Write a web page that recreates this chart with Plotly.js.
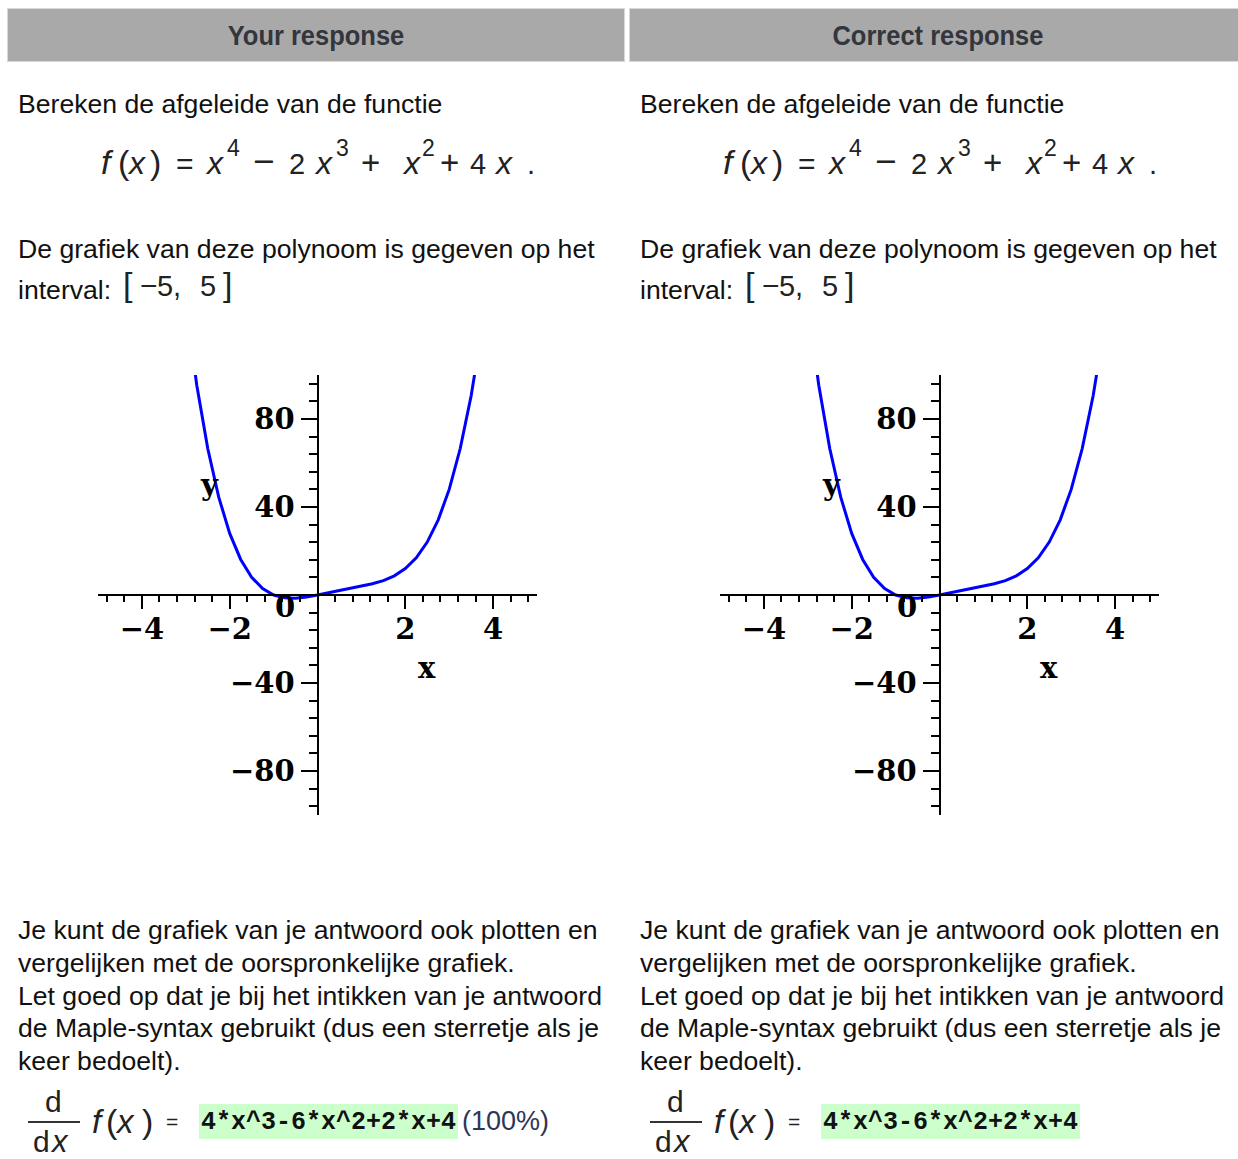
<!DOCTYPE html>
<html>
<head>
<meta charset="utf-8">
<script src="https://cdn.plot.ly/plotly-3.0.1.min.js"></script>
<style>
  html, body { margin: 0; padding: 0; background: #fff; }
  body { width: 1238px; height: 1159px; overflow: hidden; position: relative;
         font-family: "Liberation Sans", Arial, sans-serif; color: #111; }
  .col { position: absolute; top: 0; width: 623px; height: 1159px; }
  .hdr { position: absolute; left: 7px; top: 8px; width: 616px; height: 52px;
         background: #a9a9a9; border: 1px solid #d8d8d8; text-align: center; line-height: 54px; }
  .hdr span { display: inline-block; font-weight: bold; font-size: 28px; color: #33363d;
              transform: scaleX(0.91); transform-origin: center; }
  .ln { position: absolute; left: 18px; font-size: 26.6px; line-height: 26px; white-space: nowrap; }
  .g { position: absolute; white-space: nowrap; line-height: 1; color: #222; }
  .g.i { font-style: italic; }
  .plot { position: absolute; left: 60px; top: 340px; width: 520px; height: 500px; }
  .fbar { position: absolute; left: 28px; top: 1121px; width: 52px; height: 0; border-top: 2px solid #333; }
  .ans { position: absolute; left: 199px; top: 1104px; height: 35px; width: 259px; background: #ccffcc;
         font-family: "Liberation Mono", monospace; font-weight: bold; font-size: 25px; line-height: 37px;
         color: #111; padding-left: 2px; box-sizing: border-box; }
  .pct { position: absolute; left: 462px; top: 1108px; font-size: 27px; line-height: 26px; color: #2e3656; }
</style>
</head>
<body>
<div id="left" class="col" style="left:0px"></div>
<div id="right" class="col" style="left:622px"></div>
<script>
// The polynomial f(x) = x^4 - 2x^3 + x^2 + 4x, sampled on the plotted window
const sampleX = [-3, -2.75, -2.5, -2.25, -2, -1.75, -1.5, -1.25, -1, -0.75, -0.5, -0.25,
                 0, 0.25, 0.5, 0.75, 1, 1.25, 1.5, 1.75, 2, 2.25, 2.5, 2.75, 3, 3.25, 3.5, 3.75];
const sampleY = [132, 95.35, 66.56, 44.47, 28, 16.16, 8.06, 2.91, 0, -1.28, -1.44, -0.90,
                 0, 1.04, 2.06, 3.04, 4, 5.10, 6.56, 8.72, 12, 16.91, 24.06, 34.16, 48, 66.47, 90.56, 121.35];

// Axis ticks
const xTickVals = [-4, -2, 2, 4];
const xTickText = ["\u22124", "\u22122", "2", "4"];
const yTickVals = [-80, -40, 40, 80];
const yTickText = ["\u221280", "\u221240", "40", "80"];

const headers = ["Your response", "Correct response"];
const showScore = [true, false];
const scoreText = "(100%)";
const answerText = "4*x^3-6*x^2+2*x+4";

// Typeset a formula from glyph pieces: [text, left, fontSize, italic, baseline]
function formula(pieces) {
  return pieces.map(function (p) {
    const top = p[4] - 0.8465 * p[2];
    return '<span class="g' + (p[3] ? ' i' : '') + '" style="left:' + p[1] + 'px;top:' +
           top.toFixed(1) + 'px;font-size:' + p[2] + 'px">' + p[0] + '</span>';
  }).join('');
}

// f(x) = x^4 - 2 x^3 + x^2 + 4 x.
const mainB = 174, supB = 156;
const fxPieces = [
  ["f", 101, 34, 1, mainB], ["(", 118, 34, 0, mainB], ["x", 129, 32, 1, mainB], [")", 150, 34, 0, mainB],
  ["=", 176, 30, 0, mainB], ["x", 207, 32, 1, mainB], ["4", 227, 23, 0, supB],
  ["\u2212", 253, 37, 0, mainB], ["2", 289, 29, 0, mainB], ["x", 316, 32, 1, mainB], ["3", 336, 23, 0, supB],
  ["+", 361, 33, 0, mainB], ["x", 404, 32, 1, mainB], ["2", 422, 23, 0, supB],
  ["+", 440, 33, 0, mainB], ["4", 470, 29, 0, mainB], ["x", 496, 32, 1, mainB], [".", 527, 29, 0, mainB]
];
// [-5, 5]
const ivB = 296;
const ivPieces = [
  ["[", 123, 34, 0, ivB], ["\u2212", 140, 30, 0, ivB], ["5", 157, 29, 0, ivB],
  [",", 173, 29, 0, ivB], ["5", 200, 29, 0, ivB], ["]", 223, 34, 0, ivB]
];
// d/dx f(x) =
const derivPieces = [
  ["d", 45, 30, 0, 1112], ["d", 33, 30, 0, 1152], ["x", 52, 31, 1, 1152],
  ["f", 92, 33, 1, 1133], ["(", 106, 34, 0, 1133], ["x", 117, 33, 1, 1133], [")", 142, 34, 0, 1133],
  ["=", 166, 21, 0, 1129]
];

function buildColumn(el, idx) {
  el.innerHTML =
    '<div class="hdr"><span>' + headers[idx] + '</span></div>' +
    '<div class="ln" style="top:91px">Bereken de afgeleide van de functie</div>' +
    formula(fxPieces) +
    '<div class="ln" style="top:236px">De grafiek van deze polynoom is gegeven op het</div>' +
    '<div class="ln" style="top:277px">interval:</div>' +
    formula(ivPieces) +
    '<div class="plot" id="plot' + idx + '"></div>' +
    '<div class="ln" style="top:917px">Je kunt de grafiek van je antwoord ook plotten en</div>' +
    '<div class="ln" style="top:950px">vergelijken met de oorspronkelijke grafiek.</div>' +
    '<div class="ln" style="top:983px">Let goed op dat je bij het intikken van je antwoord</div>' +
    '<div class="ln" style="top:1015px">de Maple-syntax gebruikt (dus een sterretje als je</div>' +
    '<div class="ln" style="top:1048px">keer bedoelt).</div>' +
    formula(derivPieces) +
    '<div class="fbar"></div>' +
    '<div class="ans">' + answerText + '</div>' +
    (showScore[idx] ? '<div class="pct">' + scoreText + '</div>' : '');

  const tickFont = { family: "DejaVu Serif", size: 29, weight: "bold", color: "#000" };
  const trace = {
    x: sampleX, y: sampleY, type: "scatter", mode: "lines",
    line: { color: "#0000ff", width: 3 }, hoverinfo: "skip"
  };
  const layout = {
    width: 520, height: 500,
    margin: { l: 38, r: 43, t: 35, b: 25 },
    paper_bgcolor: "rgba(0,0,0,0)", plot_bgcolor: "rgba(0,0,0,0)",
    showlegend: false,
    xaxis: {
      range: [-5, 5], anchor: "free", position: 0.5, showgrid: false, zeroline: false,
      showline: true, linecolor: "#000", linewidth: 2,
      tickmode: "array", tickvals: xTickVals, ticktext: xTickText,
      ticks: "outside", ticklen: 13, tickwidth: 2, tickcolor: "#000", ticklabelstandoff: -5,
      minor: { dtick: 0.4, tick0: 0, ticks: "outside", ticklen: 6, tickwidth: 2, tickcolor: "#000", showgrid: false },
      tickfont: tickFont, fixedrange: true
    },
    yaxis: {
      range: [-100, 100], anchor: "free", position: 0.5, showgrid: false, zeroline: false,
      showline: true, linecolor: "#000", linewidth: 2,
      tickmode: "array", tickvals: yTickVals, ticktext: yTickText,
      ticks: "outside", ticklen: 16, tickwidth: 2, tickcolor: "#000",
      minor: { dtick: 8, tick0: 0, ticks: "outside", ticklen: 8, tickwidth: 2, tickcolor: "#000", showgrid: false },
      tickfont: tickFont, fixedrange: true
    },
    annotations: [
      { x: 0, y: 0, xref: "x", yref: "y", text: "0", showarrow: false,
        xanchor: "right", yanchor: "middle", xshift: -21, yshift: -12, font: tickFont },
      { x: 2.5, y: -33, xref: "x", yref: "y", text: "x", showarrow: false, font: tickFont },
      { x: -2.45, y: 50, xref: "x", yref: "y", text: "y", showarrow: false, font: tickFont }
    ]
  };
  Plotly.newPlot("plot" + idx, [trace], layout, { staticPlot: true, displayModeBar: false });
}

buildColumn(document.getElementById("left"), 0);
buildColumn(document.getElementById("right"), 1);
</script>
</body>
</html>
